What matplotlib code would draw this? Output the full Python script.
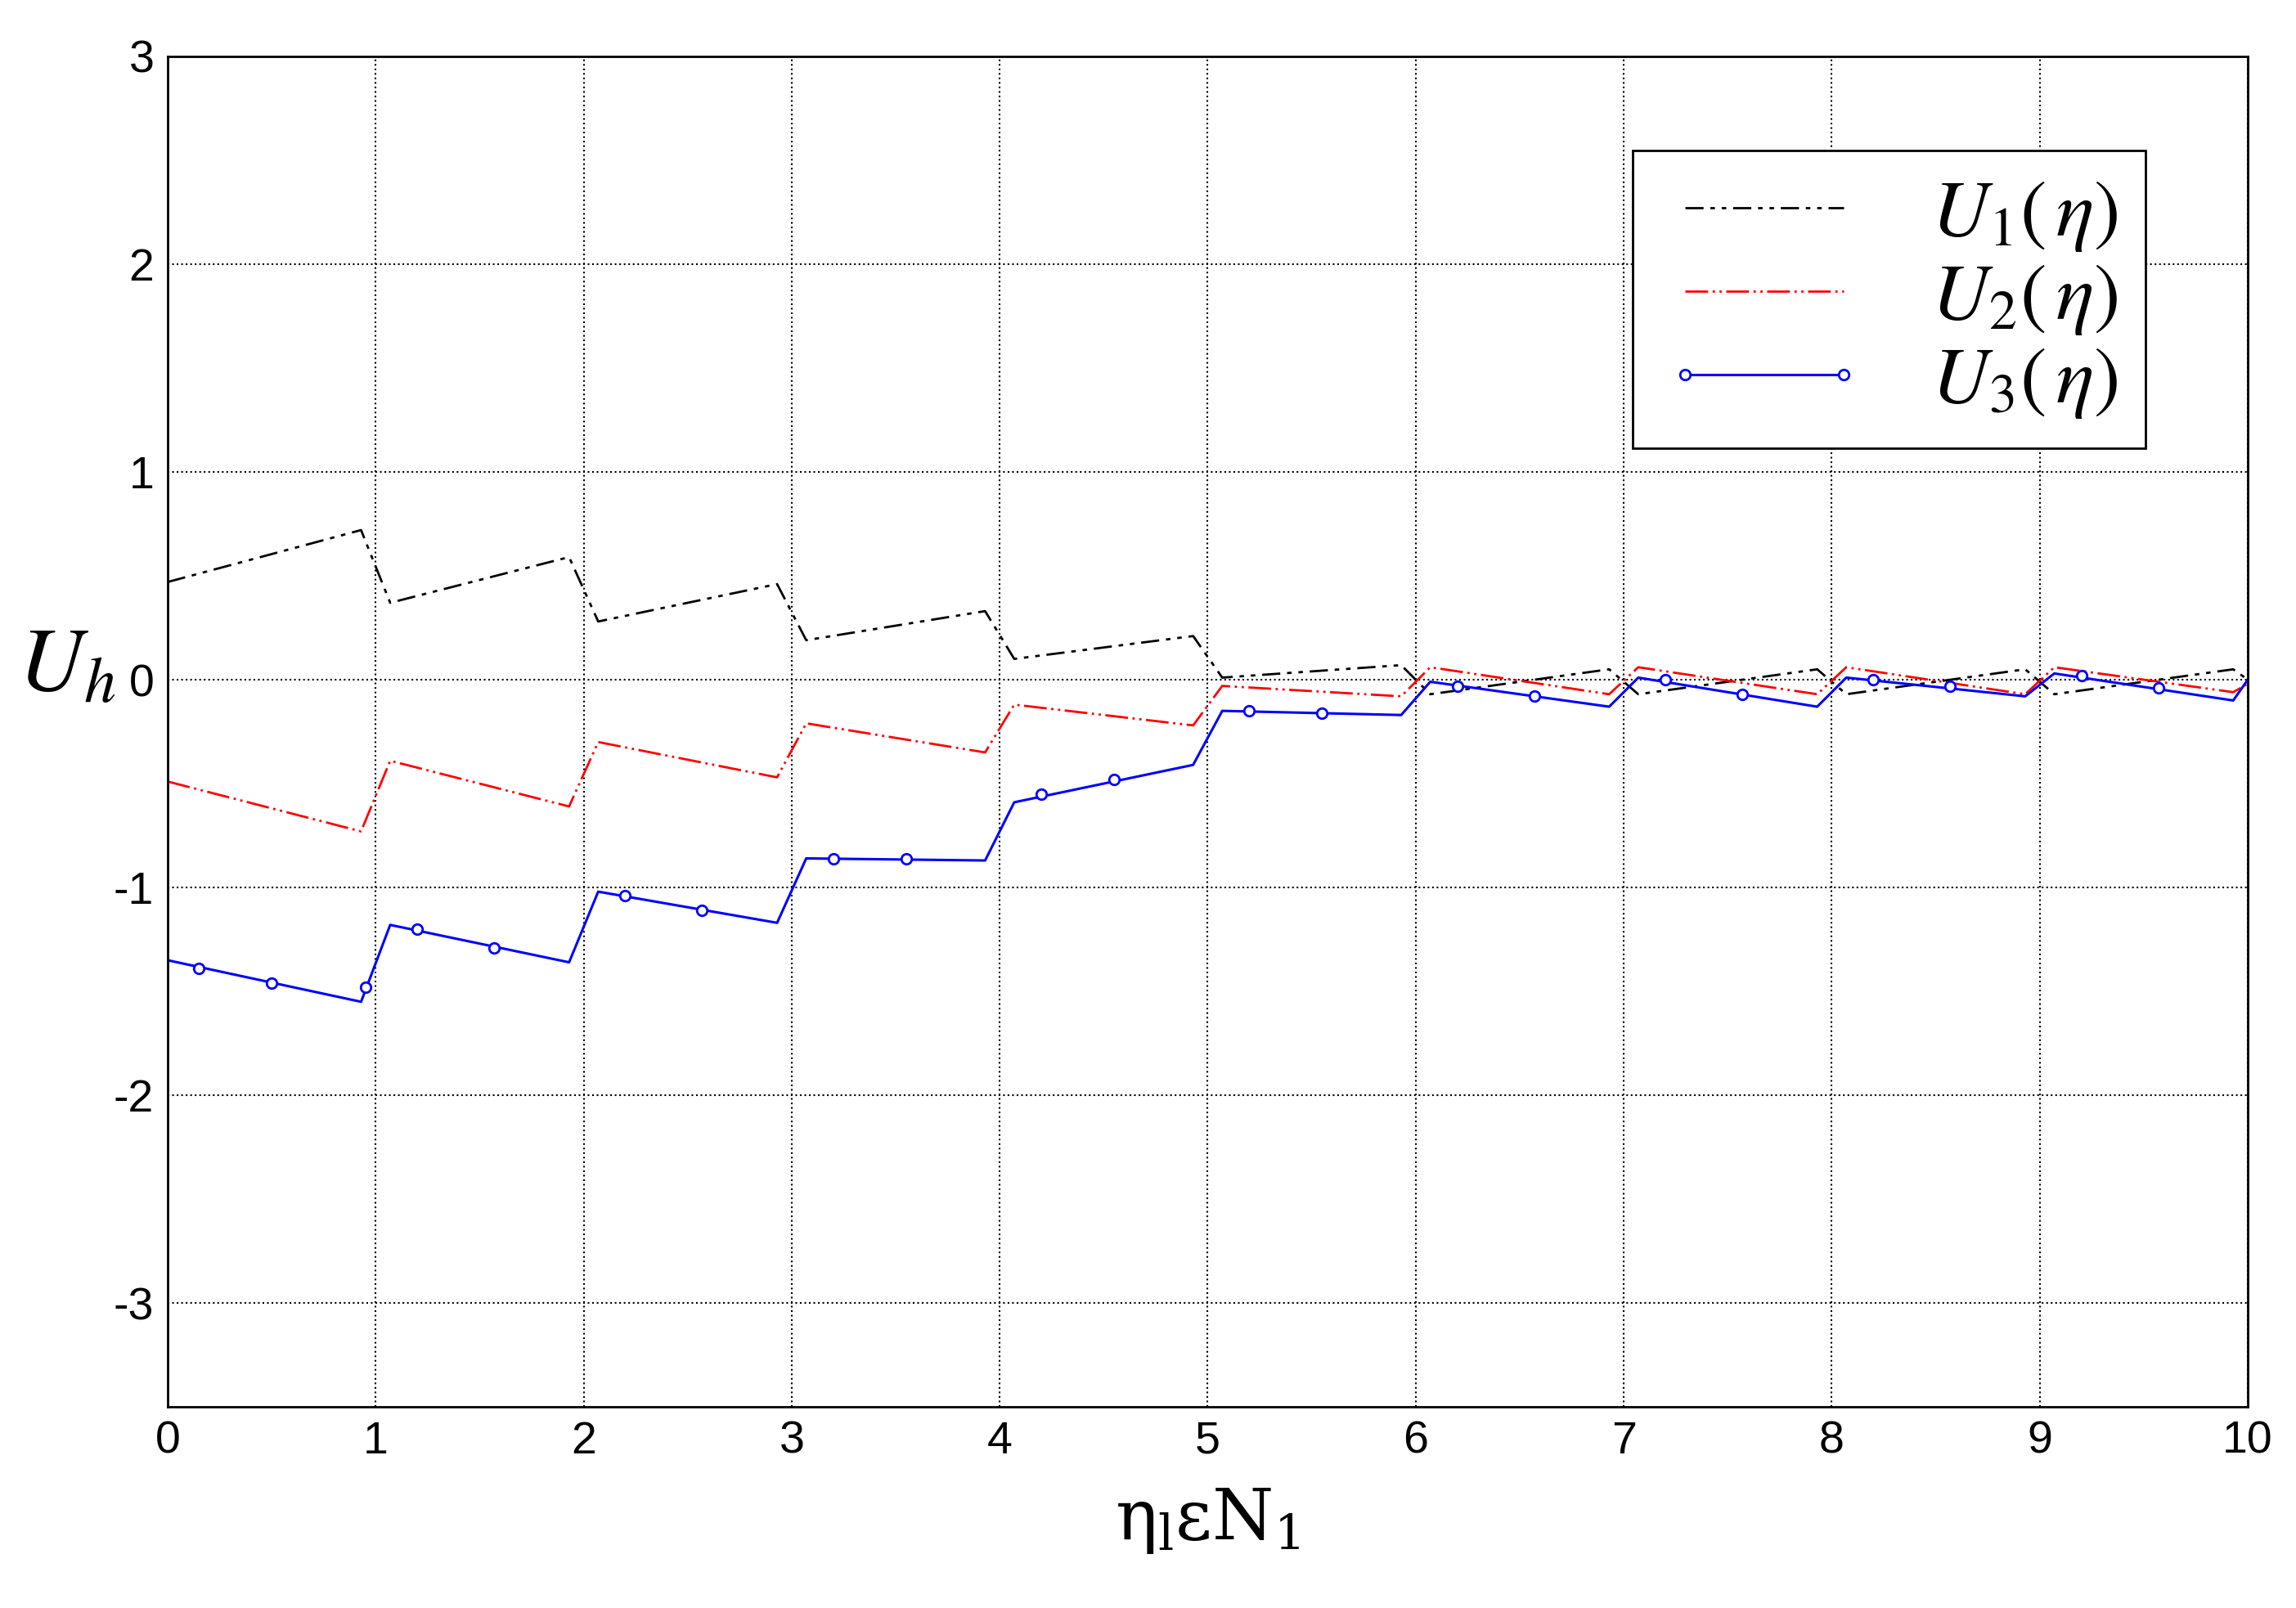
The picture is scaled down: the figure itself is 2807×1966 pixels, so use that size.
import numpy as np
import matplotlib
matplotlib.use("Agg")
import matplotlib.pyplot as plt

plt.rcParams['mathtext.fontset'] = 'stix'
plt.rcParams['font.family'] = ['Liberation Sans', 'DejaVu Sans']
plt.rcParams['axes.unicode_minus'] = False

# data
x_pts = [0, 0.93, 1.07, 1.93, 2.07, 2.93, 3.07, 3.93, 4.07, 4.93, 5.07, 5.93, 6.07,
         6.93, 7.07, 7.93, 8.07, 8.93, 9.07, 9.93, 10]
u1 = [0.47, 0.72, 0.37, 0.59, 0.28, 0.46, 0.19, 0.33, 0.10, 0.21, 0.01, 0.07, -0.07,
      0.05, -0.07, 0.05, -0.07, 0.05, -0.07, 0.05, 0.0]
u2 = [-0.49, -0.73, -0.39, -0.61, -0.30, -0.47, -0.21, -0.35, -0.12, -0.22, -0.03, -0.08, 0.06,
      -0.07, 0.06, -0.07, 0.06, -0.07, 0.06, -0.06, -0.02]
u3 = [-1.35, -1.55, -1.18, -1.36, -1.02, -1.17, -0.86, -0.87, -0.59, -0.41, -0.15, -0.17, -0.01,
      -0.13, 0.01, -0.13, 0.01, -0.08, 0.03, -0.10, 0.0]
u3_mark_x = [0.15, 0.5, 0.95, 1.2, 1.57, 2.2, 2.57, 3.2, 3.55, 4.2, 4.55, 5.2, 5.55,
             6.2, 6.57, 7.2, 7.57, 8.2, 8.57, 9.2, 9.57]
u3_mark_y = [-1.39, -1.46, -1.48, -1.20, -1.29, -1.04, -1.11, -0.86, -0.86, -0.55, -0.48, -0.15, -0.16,
             -0.03, -0.08, 0.0, -0.07, 0.0, -0.03, 0.02, -0.04]

fig = plt.figure(figsize=(28.07, 19.66), dpi=100)
ax = fig.add_axes([0.073, 0.125, 0.906, 0.84])

ax.plot(x_pts, u1, color='black', lw=2, dashes=[8, 3, 2, 3, 2, 3])
ax.plot(x_pts, u2, color='red', lw=2, dashes=[10, 2, 1, 2, 1, 2])
ax.plot(x_pts, u3, color='blue', lw=2.2)
ax.plot(u3_mark_x, u3_mark_y, ls='none', marker='o', ms=9, mfc='white', mec='blue', mew=2)

# legend proxies
h1, = ax.plot([], [], color='black', lw=2, dashes=[8, 3, 2, 3, 2, 3])
h2, = ax.plot([], [], color='red', lw=2, dashes=[10, 2, 1, 2, 1, 2])
h3, = ax.plot([], [], color='blue', lw=2.2, marker='o', ms=9, mfc='white', mec='blue', mew=2)
leg = ax.legend([h1, h2, h3], [r'$U_1(\,\eta)$', r'$U_2(\,\eta)$', r'$U_3(\,\eta)$'],
                loc='upper right', bbox_to_anchor=(0.951, 0.93), borderaxespad=0,
                fontsize=70, numpoints=2,
                fancybox=False, edgecolor='black', framealpha=1, handlelength=2.6,
                labelspacing=0.1, borderpad=0.35)
leg.get_frame().set_linewidth(2)

ax.set_xlim(0, 10)
ax.set_ylim(-3.5, 3)
ax.set_xticks(range(0, 11))
ax.set_yticks([-3, -2, -1, 0, 1, 2, 3])
ax.grid(True, color='black', ls=':', lw=1.5)
ax.tick_params(labelsize=40, length=0, pad=12)
for s in ax.spines.values():
    s.set_linewidth(2)

ax.set_xlabel(r'$\mathregular{\eta_l\epsilon N_1}$', fontsize=62, family='serif', labelpad=20)
fig.text(0.008, 0.585, r'$U_h$', fontsize=80, va='center')

fig.savefig('out.png', dpi=100)
